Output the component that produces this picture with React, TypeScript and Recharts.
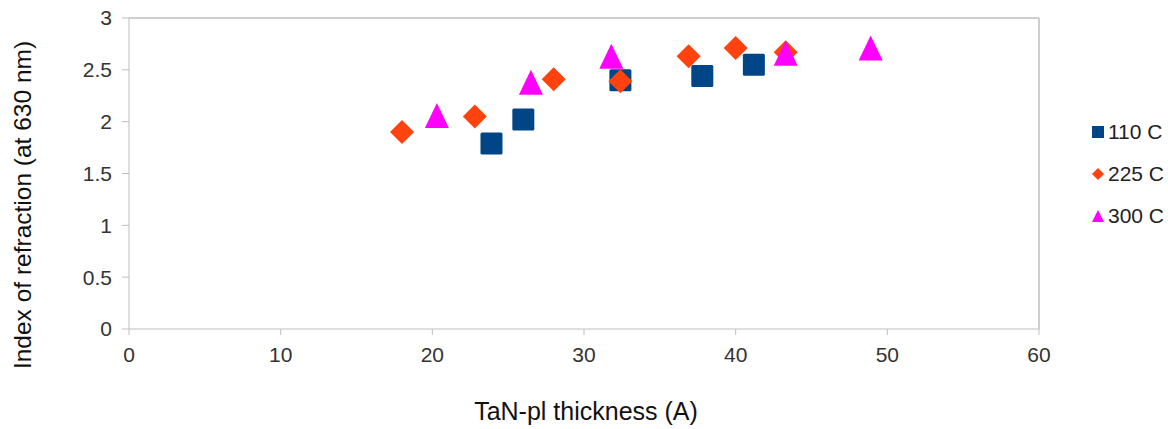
import React from 'react';
import { ScatterChart, Scatter, XAxis, YAxis, ReferenceLine } from 'recharts';

// thickness (A) / index of refraction at 630 nm
const thick110 = [23.9, 26.0, 32.4, 37.8, 41.2];
const index110 = [1.79, 2.02, 2.4, 2.44, 2.55];

const thick225 = [18.0, 22.8, 28.0, 32.4, 36.9, 40.0, 43.3];
const index225 = [1.9, 2.05, 2.41, 2.39, 2.63, 2.71, 2.67];

const thick300 = [20.3, 26.5, 31.8, 43.3, 48.9];
const index300 = [2.06, 2.38, 2.63, 2.66, 2.71];

const xTicks = [0, 10, 20, 30, 40, 50, 60];
const yTicks = [0, 0.5, 1, 1.5, 2, 2.5, 3];

const toPoints = (xs: number[], ys: number[]) => xs.map((x, i) => ({ x, y: ys[i] }));

const data110 = toPoints(thick110, index110);
const data225 = toPoints(thick225, index225);
const data300 = toPoints(thick300, index300);

const BLUE = '#004586';
const ORANGE = '#FF420E';
const MAGENTA = '#FF00FF';
const AXIS = '#BFBFBF';
const FONT = '"Liberation Sans", Arial, sans-serif';

const Square = (props: any) => {
  const { cx, cy } = props;
  return <rect x={cx - 11} y={cy - 11} width={22} height={22} rx={1.5} fill={BLUE} />;
};

const Diamond = (props: any) => {
  const { cx, cy } = props;
  const r = 12;
  return <polygon points={`${cx},${cy - r} ${cx + r},${cy} ${cx},${cy + r} ${cx - r},${cy}`} fill={ORANGE} />;
};

const Triangle = (props: any) => {
  const { cx, cy } = props;
  return (
    <polygon
      points={`${cx},${cy - 12.5} ${cx + 12},${cy + 12.5} ${cx - 12},${cy + 12.5}`}
      fill={MAGENTA}
    />
  );
};

const legendItems = [
  { name: '110 C', color: BLUE, kind: 'square' },
  { name: '225 C', color: ORANGE, kind: 'diamond' },
  { name: '300 C', color: MAGENTA, kind: 'triangle' },
];

const tickStyle = { fontFamily: FONT, fontSize: 21, fill: '#333' };

export default function App() {
  return (
    <div style={{ position: 'absolute', left: 0, top: 0, width: 1168, height: 429 }}>
      <ScatterChart
        width={1168}
        height={429}
        margin={{ top: 18, right: 129, left: 69, bottom: 0 }}
      >
        <XAxis
          type="number"
          dataKey="x"
          domain={[0, 60]}
          ticks={xTicks}
          stroke={AXIS}
          tickSize={6}
          tickMargin={12}
          tick={tickStyle}
          height={100}
          allowDataOverflow
        />
        <YAxis
          type="number"
          dataKey="y"
          domain={[0, 3]}
          ticks={yTicks}
          stroke={AXIS}
          tickSize={7}
          tickMargin={10}
          tick={tickStyle}
          width={60}
          allowDataOverflow
        />
        <ReferenceLine y={3} stroke={AXIS} strokeWidth={1.5} />
        <ReferenceLine x={60} stroke={AXIS} strokeWidth={1.5} />
        <Scatter name="110 C" data={data110} shape={Square} isAnimationActive={false} />
        <Scatter name="225 C" data={data225} shape={Diamond} isAnimationActive={false} />
        <Scatter name="300 C" data={data300} shape={Triangle} isAnimationActive={false} />
      </ScatterChart>

      <svg
        width={1168}
        height={429}
        style={{ position: 'absolute', left: 0, top: 0, pointerEvents: 'none' }}
      >
        <text
          transform="translate(22,205) rotate(-90)"
          textAnchor="middle"
          dominantBaseline="central"
          style={{ fontFamily: FONT, fontSize: 24.5, fill: '#111' }}
        >
          Index of refraction (at 630 nm)
        </text>
        <text
          x={586}
          y={411}
          textAnchor="middle"
          dominantBaseline="central"
          style={{ fontFamily: FONT, fontSize: 25, fill: '#111' }}
        >
          TaN-pl thickness (A)
        </text>
      </svg>

      <div
        style={{
          position: 'absolute',
          left: 1091,
          top: 110.5,
          fontFamily: FONT,
          fontSize: 21,
          color: '#222',
        }}
      >
        {legendItems.map((it) => (
          <div key={it.name} style={{ display: 'flex', alignItems: 'center', height: 42.3 }}>
            <svg width={14} height={14} style={{ marginRight: 3 }}>
              {it.kind === 'square' && <rect x={1} y={1} width={12} height={12} fill={it.color} />}
              {it.kind === 'diamond' && <polygon points="7,1 13,7 7,13 1,7" fill={it.color} />}
              {it.kind === 'triangle' && <polygon points="7,1 13,13 1,13" fill={it.color} />}
            </svg>
            <span>{it.name}</span>
          </div>
        ))}
      </div>
    </div>
  );
}
